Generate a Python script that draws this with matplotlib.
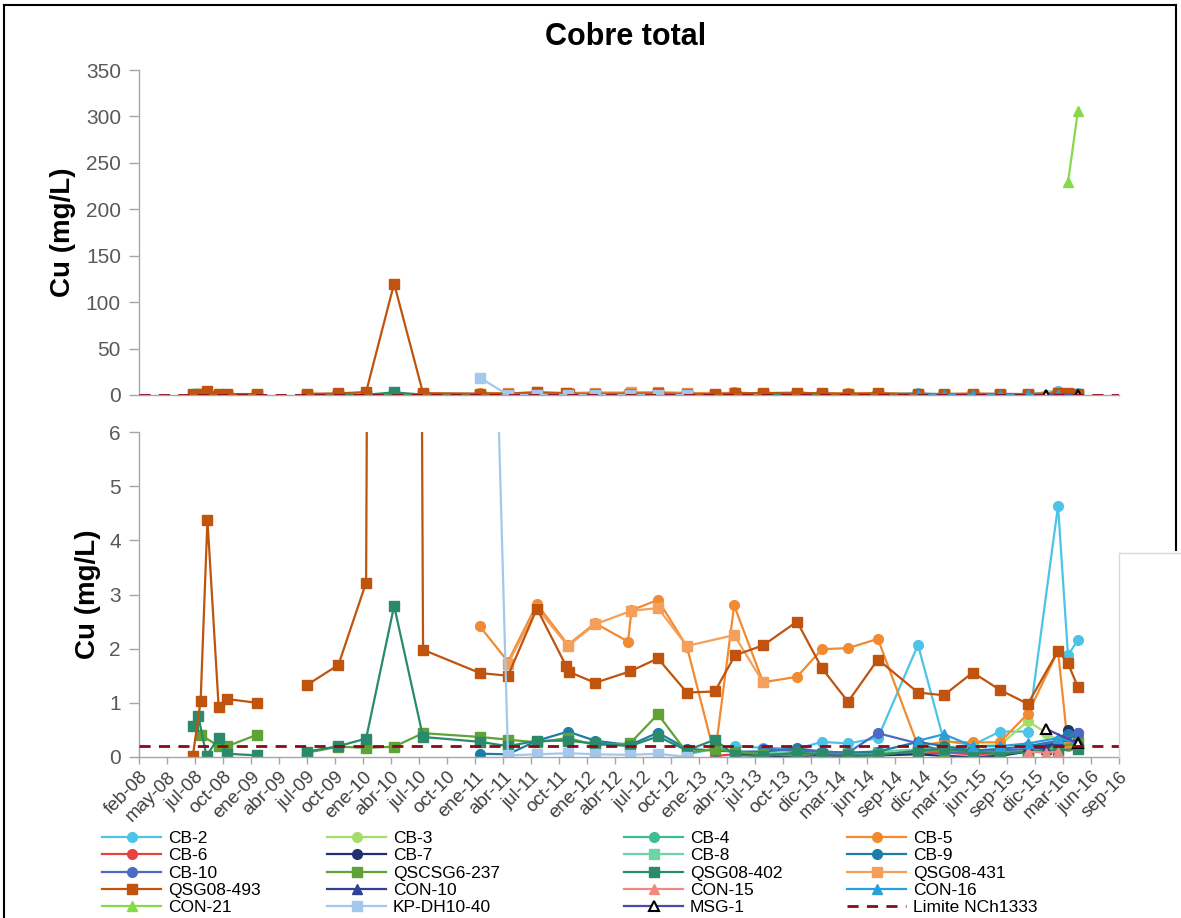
import numpy as np
import pandas as pd
import matplotlib
matplotlib.use('Agg')
import matplotlib.pyplot as plt
from matplotlib.lines import Line2D

plt.rcParams['font.family'] = ['Liberation Sans', 'DejaVu Sans']

W, H = 1181, 918

# eje x: fechas desde feb-08 con paso de 90 dias
X_START = '2008-02-01'
TICK_STEP_DAYS = 90
TICK_LABELS = ['feb-08', 'may-08', 'jul-08', 'oct-08', 'ene-09', 'abr-09', 'jul-09',
               'oct-09', 'ene-10', 'abr-10', 'jul-10', 'oct-10', 'ene-11', 'abr-11',
               'jul-11', 'oct-11', 'ene-12', 'abr-12', 'jul-12', 'oct-12', 'ene-13',
               'abr-13', 'jul-13', 'oct-13', 'dic-13', 'mar-14', 'jun-14', 'sep-14',
               'dic-14', 'mar-15', 'jun-15', 'sep-15', 'dic-15', 'mar-16', 'jun-16',
               'sep-16']
LIMITE = 0.2

# --- series (fecha, Cu mg/L); None = sin dato (corte de linea)
CB2_DATES = ['2012-11-27', '2013-02-25', '2013-05-01', '2013-07-30', '2013-11-16',
             '2014-02-04', '2014-04-29', '2014-08-03', '2014-12-10', '2015-03-03',
             '2015-06-04', '2015-08-30', '2015-11-28', '2016-03-04', '2016-04-05',
             '2016-05-07']
CB2_VALUES = [0.05, 0.15, 0.2, 0.17, 0.15, 0.28, 0.25, 0.35, 2.07, 0.3,
              0.22, 0.47, 0.47, 4.64, 1.88, 2.16]

CB3_DATES = ['2014-12-10', '2015-03-03', '2015-06-04', '2015-08-30', '2015-11-28',
             '2016-01-25', '2016-03-04', '2016-05-07']
CB3_VALUES = [0.12, 0.18, 0.2, 0.22, 0.66, 0.45, 0.3, 0.28]

CB4_DATES = ['2013-05-01', '2013-07-30', '2013-11-16', '2014-02-04', '2014-04-29',
             '2014-08-03', '2014-12-10', '2015-03-03', '2015-06-04', '2015-08-30',
             '2015-11-28', '2016-03-04', '2016-05-07']
CB4_VALUES = [0.08, 0.06, 0.1, 0.07, 0.05, 0.06, 0.1, 0.12, 0.1, 0.08, 0.12, 0.18, 0.2]

CB5_DATES = ['2011-02-01', '2011-05-02', '2011-08-03', '2011-11-11', '2012-02-06',
             '2012-05-22', '2012-06-02', '2012-08-26', '2012-11-27', '2013-02-25',
             '2013-04-28', '2013-07-30', '2013-11-16', '2014-02-04', '2014-04-29',
             '2014-08-03', '2014-12-10', '2015-03-03', '2015-06-04', '2015-08-30',
             '2015-11-28', '2016-03-04', '2016-04-05']
CB5_VALUES = [2.41, 1.76, 2.82, 2.07, 2.47, 2.13, 2.71, 2.9, 2.04, 0.02,
              2.8, 1.38, 1.48, 1.99, 2.01, 2.18, 0.2, 0.28, 0.27, 0.27,
              0.8, 1.96, 0.2]

CB6_DATES = ['2013-02-25', '2013-05-01', '2013-07-30', '2013-11-16', '2014-02-04',
             '2014-04-29', '2014-08-03', '2014-12-10', '2015-03-03', '2015-06-04',
             '2015-08-30', '2015-11-28', '2016-03-04']
CB6_VALUES = [0.02, 0.05, 0.04, 0.06, 0.04, 0.03, 0.05, 0.06, 0.08, 0.05, 0.07, 0.15, 0.12]

CB7_DATES = ['2013-05-01', '2013-07-30', '2013-11-16', '2014-02-04', '2014-04-29',
             '2014-08-03', '2014-12-10', '2015-03-03', '2015-06-04', '2015-08-30',
             '2015-11-28', '2016-03-04', '2016-04-05', '2016-05-07']
CB7_VALUES = [0.05, 0.02, 0.02, 0.03, 0.02, 0.03, 0.05, 0.02, 0.0, 0.02, 0.1, 0.28, 0.5, 0.45]

CB8_DATES = ['2013-07-30', '2013-11-16', '2014-02-04', '2014-04-29', '2014-08-03',
             '2014-12-10', '2015-03-03', '2015-06-04', '2015-08-30', '2015-11-28',
             '2016-03-04']
CB8_VALUES = [0.1, 0.08, 0.06, 0.08, 0.1, 0.14, 0.16, 0.14, 0.1, 0.12, 0.15]

CB9_DATES = ['2011-02-01', '2011-05-02', '2011-08-03', '2011-11-11', '2012-02-06',
             '2012-05-28', '2012-08-26', '2012-11-27', '2013-02-25', '2013-05-01',
             '2013-07-30', '2013-11-16', '2014-02-04', '2014-04-29', '2014-08-03',
             '2014-12-10', '2015-03-03', '2015-06-04', '2015-08-30', '2015-11-28',
             '2016-03-04', '2016-04-05', '2016-05-07']
CB9_VALUES = [0.06, 0.05, 0.3, 0.47, 0.3, 0.22, 0.45, 0.15, 0.12, 0.1, 0.1, 0.16,
              0.1, 0.08, 0.1, 0.28, 0.2, 0.12, 0.15, 0.2, 0.3, 0.42, 0.35]

CB10_DATES = ['2013-07-30', '2013-11-16', '2014-02-04', '2014-04-29', '2014-08-03',
              '2014-12-10', '2015-03-03', '2015-06-04', '2015-08-30', '2015-11-28',
              '2016-03-04', '2016-05-07']
CB10_VALUES = [0.15, 0.12, 0.1, 0.08, 0.44, 0.25, 0.1, 0.08, 0.12, 0.15, 0.3, 0.45]

QSCSG6_237_DATES = ['2008-08-17', '2008-10-14', '2008-11-11', '2009-02-14', '2009-04-01',
                    '2009-07-25', '2009-11-03', '2010-01-31', '2010-05-01', '2010-08-02',
                    '2011-02-01', '2011-05-02', '2011-08-03', '2011-11-11', '2012-02-06',
                    '2012-05-28', '2012-08-26', '2012-11-27', '2013-02-25', '2013-05-01',
                    '2013-07-30', '2013-11-16', '2014-02-04', '2014-04-29', '2014-08-03',
                    '2014-12-10', '2015-03-03', '2015-06-04', '2015-08-30', '2015-11-28',
                    '2016-03-04', '2016-05-07']
QSCSG6_237_VALUES = [0.41, 0.2, 0.2, 0.41, None, 0.08, 0.19, 0.17, 0.19, 0.44,
                     0.37, 0.32, 0.27, 0.35, 0.22, 0.25, 0.79, 0.08, 0.15, 0.1,
                     0.05, 0.03, 0.06, 0.05, 0.05, 0.1, 0.12, 0.1, 0.08, 0.1,
                     0.2, 0.25]

QSG08_402_DATES = ['2008-07-23', '2008-08-10', '2008-09-05', '2008-10-14', '2008-11-11',
                   '2009-02-14', '2009-04-01', '2009-07-25', '2009-11-03', '2010-01-31',
                   '2010-05-01', '2010-08-02', '2011-02-01', '2011-05-02', '2011-08-03',
                   '2011-11-11', '2012-02-06', '2012-05-28', '2012-08-26', '2012-11-27',
                   '2013-02-25', '2013-05-01', '2013-07-30', '2013-11-16', '2014-02-04',
                   '2014-04-29', '2014-08-03', '2014-12-10', '2015-03-03', '2015-06-04',
                   '2015-08-30', '2015-11-28', '2016-03-04', '2016-05-07']
QSG08_402_VALUES = [0.57, 0.75, 0.02, 0.36, 0.06, 0.03, None, 0.1, 0.2, 0.34,
                    2.79, 0.37, 0.28, 0.2, 0.3, 0.3, 0.25, 0.2, 0.38, 0.12,
                    0.32, 0.03, 0.02, 0.08, 0.05, 0.03, 0.03, 0.12, 0.15, 0.1,
                    0.05, 0.1, 0.12, 0.15]

QSG08_431_DATES = ['2011-05-02', '2011-08-03', '2011-11-11', '2012-02-06', '2012-06-02',
                   '2012-08-26', '2012-11-27', '2013-04-28', '2013-07-30']
QSG08_431_VALUES = [1.72, 2.75, 2.05, 2.45, 2.7, 2.75, 2.05, 2.25, 1.38]

QSG08_493_DATES = ['2008-07-23', '2008-08-17', '2008-09-08', '2008-10-14', '2008-11-11',
                   '2009-02-14', '2009-04-01', '2009-07-25', '2009-11-03', '2010-01-31',
                   '2010-05-01', '2010-08-02', '2011-02-01', '2011-05-02', '2011-08-03',
                   '2011-11-05', '2011-11-15', '2012-02-06', '2012-05-28', '2012-08-26',
                   '2012-11-27', '2013-02-25', '2013-05-01', '2013-07-30', '2013-11-16',
                   '2014-02-04', '2014-04-29', '2014-08-03', '2014-12-10', '2015-03-03',
                   '2015-06-04', '2015-08-30', '2015-11-28', '2016-03-04', '2016-04-05',
                   '2016-05-07']
QSG08_493_VALUES = [0.02, 1.03, 4.38, 0.93, 1.07, 1.0, None, 1.33, 1.7, 3.22,
                    120.0, 1.98, 1.55, 1.5, 2.74, 1.68, 1.57, 1.37, 1.58, 1.82,
                    1.19, 1.21, 1.88, 2.06, 2.5, 1.64, 1.02, 1.8, 1.19, 1.14,
                    1.56, 1.24, 0.98, 1.96, 1.73, 1.29]

CON10_DATES = ['2015-11-28', '2016-01-25', '2016-03-04', '2016-05-07']
CON10_VALUES = [0.2, 0.15, 0.3, 0.3]

CON15_DATES = ['2015-11-28', '2016-01-25', '2016-03-04']
CON15_VALUES = [0.1, 0.08, 0.1]

CON16_DATES = ['2014-12-10', '2015-03-03', '2015-06-04', '2015-08-30', '2015-11-28',
               '2016-03-04', '2016-05-07']
CON16_VALUES = [0.3, 0.42, 0.2, 0.2, 0.25, 0.35, 0.25]

CON21_DATES = ['2016-04-05', '2016-05-07']
CON21_VALUES = [229.0, 306.0]

KPDH10_40_DATES = ['2011-02-01', '2011-05-02', '2011-08-03', '2011-11-11', '2012-02-06',
                   '2012-05-28', '2012-08-26', '2012-11-27']
KPDH10_40_VALUES = [18.6, 0.03, 0.05, 0.07, 0.05, 0.04, 0.06, 0.0]

MSG1_DATES = ['2016-01-25', '2016-05-07']
MSG1_VALUES = [0.52, 0.25]

# (nombre, fechas, valores, color, marcador)
series = [
    ('CB-2', CB2_DATES, CB2_VALUES, '#4BC4E8', 'o'),
    ('CB-3', CB3_DATES, CB3_VALUES, '#A5DD6A', 'o'),
    ('CB-4', CB4_DATES, CB4_VALUES, '#3FBF8F', 'o'),
    ('CB-5', CB5_DATES, CB5_VALUES, '#F28A30', 'o'),
    ('CB-6', CB6_DATES, CB6_VALUES, '#E8423F', 'o'),
    ('CB-7', CB7_DATES, CB7_VALUES, '#233070', 'o'),
    ('CB-8', CB8_DATES, CB8_VALUES, '#6FD4A8', 's'),
    ('CB-9', CB9_DATES, CB9_VALUES, '#1C7EA8', 'o'),
    ('CB-10', CB10_DATES, CB10_VALUES, '#4A6CC4', 'o'),
    ('QSCSG6-237', QSCSG6_237_DATES, QSCSG6_237_VALUES, '#5FA336', 's'),
    ('QSG08-402', QSG08_402_DATES, QSG08_402_VALUES, '#2B8A6A', 's'),
    ('QSG08-431', QSG08_431_DATES, QSG08_431_VALUES, '#F5A05A', 's'),
    ('QSG08-493', QSG08_493_DATES, QSG08_493_VALUES, '#C0530E', 's'),
    ('CON-10', CON10_DATES, CON10_VALUES, '#2E4193', '^'),
    ('CON-15', CON15_DATES, CON15_VALUES, '#F08A80', '^'),
    ('CON-16', CON16_DATES, CON16_VALUES, '#2BA0D8', '^'),
    ('CON-21', CON21_DATES, CON21_VALUES, '#86D94A', '^'),
    ('KP-DH10-40', KPDH10_40_DATES, KPDH10_40_VALUES, '#A3C8EB', 's'),
    ('MSG-1', MSG1_DATES, MSG1_VALUES, '#4A4AA8', '^'),
]
TOP_ONLY = {'CON-21'}

x0 = pd.Timestamp(X_START)
tick_dates = [x0 + pd.Timedelta(days=TICK_STEP_DAYS * k) for k in range(len(TICK_LABELS))]
xmin, xmax = tick_dates[0], tick_dates[-1]

fig = plt.figure(figsize=(W / 100, H / 100), dpi=100)
ax_top = fig.add_axes([139 / W, 1 - 395 / H, 980 / W, 325 / H])
ax_bot = fig.add_axes([139 / W, 1 - 757 / H, 980 / W, 325 / H])

handles = {}
for ax in (ax_top, ax_bot):
    for name, dates, vals, color, mk in series:
        if ax is ax_bot and name in TOP_ONLY:
            continue
        x = pd.to_datetime(dates)
        y = np.array([np.nan if v is None else v for v in vals], dtype=float)
        ms = 7.5 if mk == 's' else 7
        if name == 'MSG-1':
            ln, = ax.plot(x, y, color=color, lw=1.6, marker=mk, ms=6.5,
                          mfc='white', mec='black', mew=1.5, label=name)
        else:
            ln, = ax.plot(x, y, color=color, lw=1.6, marker=mk, ms=ms,
                          mec=color, label=name)
        handles[name] = ln
    lim, = ax.plot([xmin, xmax], [LIMITE, LIMITE], color='#8B0A1A', lw=2,
                   ls=(0, (4, 3)), label='Limite NCh1333', zorder=5)
    handles['Limite NCh1333'] = lim

    ax.set_xlim(xmin, xmax)
    for s in ('top', 'right'):
        ax.spines[s].set_visible(False)
    for s in ('left', 'bottom'):
        ax.spines[s].set_color('#A6A6A6')
        ax.spines[s].set_linewidth(1)
    ax.tick_params(axis='y', colors='#A6A6A6', labelcolor='#595959',
                   labelsize=15, length=7, width=1, pad=6)
    ax.set_ylabel('Cu (mg/L)', fontsize=20, fontweight='bold')

ax_top.set_ylim(0, 350)
ax_top.set_yticks(np.arange(0, 351, 50))
ax_top.set_xticks(tick_dates)
ax_top.tick_params(axis='x', length=0, labelbottom=False)
ax_top.yaxis.set_label_coords(-0.064, 0.5)

ax_bot.set_ylim(0, 6)
ax_bot.set_yticks(np.arange(0, 7, 1))
ax_bot.set_xticks(tick_dates)
ax_bot.set_xticklabels(TICK_LABELS, rotation=45, ha='right', rotation_mode='anchor')
ax_bot.tick_params(axis='x', colors='#A6A6A6', labelcolor='#404040',
                   labelsize=13.5, length=5, width=1, pad=3)
ax_bot.yaxis.set_label_coords(-0.039, 0.5)

fig.text(626 / W, 1 - 37 / H, 'Cobre total', ha='center', va='center',
         fontsize=22, fontweight='bold')

# leyenda: 4 columnas, orden por filas
legend_cols = [
    ['CB-2', 'CB-6', 'CB-10', 'QSG08-493', 'CON-21'],
    ['CB-3', 'CB-7', 'QSCSG6-237', 'CON-10', 'KP-DH10-40'],
    ['CB-4', 'CB-8', 'QSG08-402', 'CON-15', 'MSG-1'],
    ['CB-5', 'CB-9', 'QSG08-431', 'CON-16', 'Limite NCh1333'],
]
col_x = [102, 327, 624, 847]
for names, cx in zip(legend_cols, col_x):
    fig.legend([handles[n] for n in names], names, loc='upper left',
               bbox_to_anchor=(cx / W, 1 - 831 / H), frameon=False,
               fontsize=12.5, handlelength=3.4, handletextpad=0.4,
               labelspacing=0.12, borderpad=0, borderaxespad=0)

# marco
frame = dict(color='black', lw=1.5, transform=fig.transFigure)
fig.add_artist(Line2D([4 / W, 4 / W], [0, 1 - 5 / H], **frame))
fig.add_artist(Line2D([4 / W, 1176 / W], [1 - 5 / H, 1 - 5 / H], **frame))
fig.add_artist(Line2D([1176 / W, 1176 / W], [1 - 5 / H, 1 - 550 / H], **frame))
faint = dict(color='#D9D9D9', lw=1, transform=fig.transFigure)
fig.add_artist(Line2D([1119 / W, 1181 / W], [1 - 553 / H, 1 - 553 / H], **faint))
fig.add_artist(Line2D([1119 / W, 1119 / W], [1 - 553 / H, 1 - 757 / H], **faint))

fig.savefig('out.png', dpi=100)
